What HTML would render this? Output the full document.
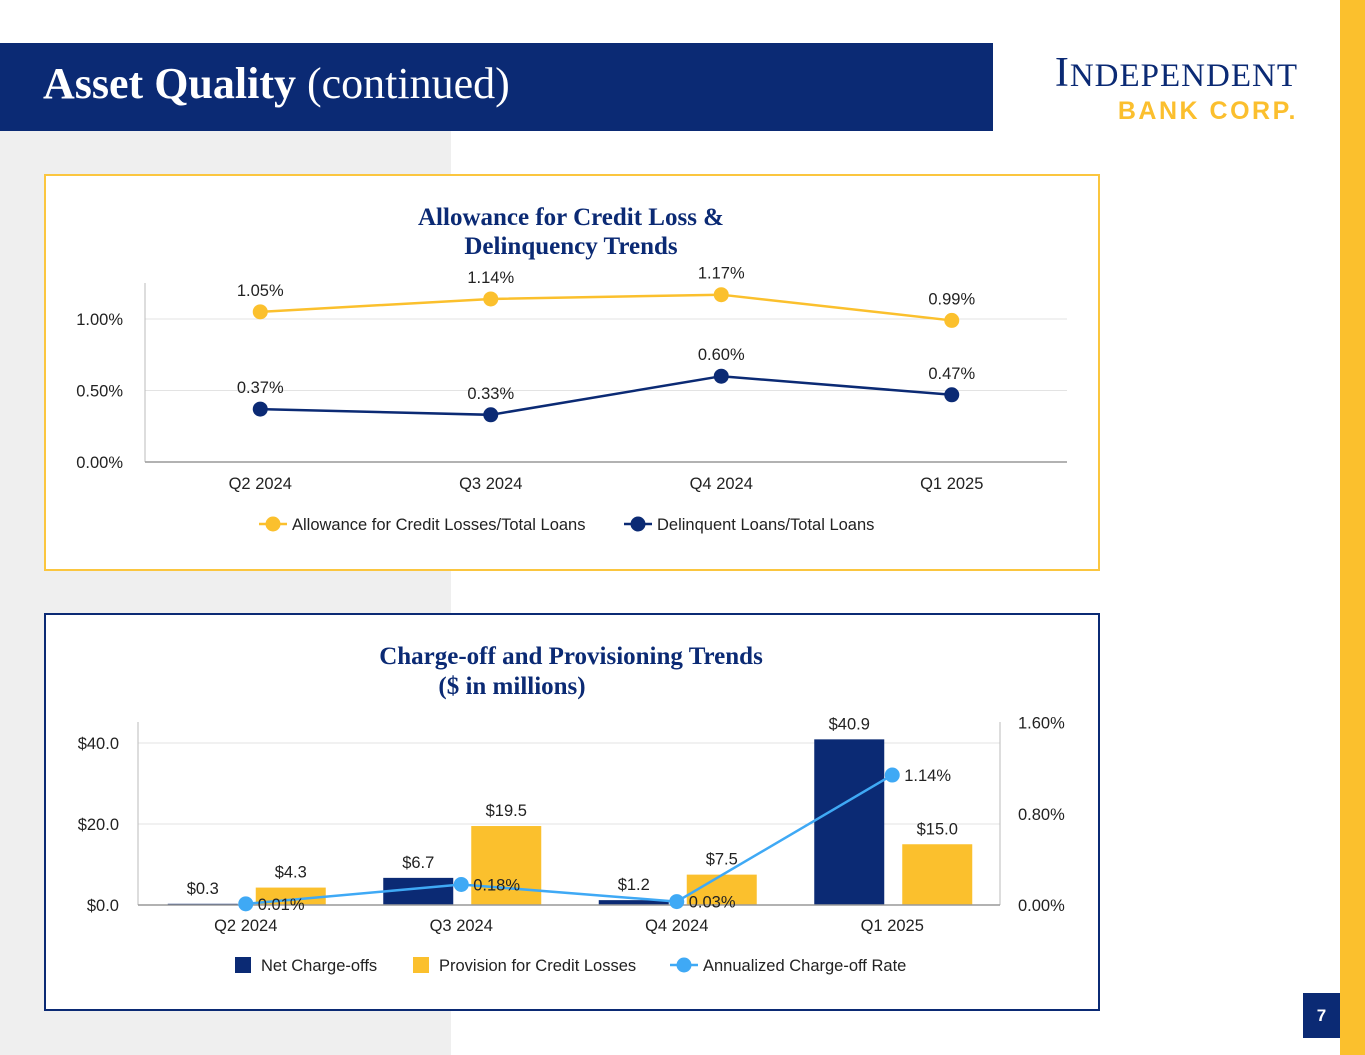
<!DOCTYPE html>
<html><head><meta charset="utf-8">
<style>
body{margin:0;width:1365px;height:1055px;position:relative;background:#fff;overflow:hidden;font-family:"Liberation Sans",Arial,sans-serif}
.abs{position:absolute}
svg text{font-family:"Liberation Sans",Arial,sans-serif}
</style></head><body>
<div class="abs" style="left:0;top:131px;width:451px;height:924px;background:#efefef"></div>
<div class="abs" style="left:0;top:43px;width:993px;height:88px;background:#0b2a74"></div>
<div class="abs" style="left:43px;top:58px;color:#fff;font-family:'Liberation Serif',serif;font-size:44px;line-height:52px;white-space:nowrap"><b>Asset Quality</b> (continued)</div>
<div class="abs" style="left:980px;top:52px;width:318px;text-align:right">
  <div style="color:#0b2a74;font-family:'Liberation Serif',serif;font-size:42px;line-height:42px;letter-spacing:1px;white-space:nowrap">I<span style="font-size:33px">NDEPENDENT</span></div>
  <div style="color:#fbbf2e;font-size:25px;font-weight:bold;line-height:28px;letter-spacing:2.5px;white-space:nowrap">BANK CORP.</div>
</div>
<div class="abs" style="left:1340px;top:0;width:25px;height:1055px;background:#fbc02d"></div>
<div class="abs" style="left:1303px;top:993px;width:37px;height:45px;background:#0b2a74;color:#fff;font-weight:bold;font-size:17px;text-align:center;line-height:45px">7</div>

<div class="abs" style="left:44px;top:174px;width:1052px;height:393px;border:2px solid #fbc63f;background:#fff"></div>
<div class="abs" style="left:44px;top:613px;width:1052px;height:394px;border:2px solid #0b2a74;background:#fff"></div>

<svg class="abs" id="chart1" style="left:0;top:0" width="1365" height="1055"></svg>

<script>
const cats1 = ["Q2 2024","Q3 2024","Q4 2024","Q1 2025"];
const allowance = [1.05,1.14,1.17,0.99];
const delinquent = [0.37,0.33,0.60,0.47];
const yTicks1 = [0,0.5,1.0];
const yTickLabels1 = ["0.00%","0.50%","1.00%"];

const cats2 = ["Q2 2024","Q3 2024","Q4 2024","Q1 2025"];
const netChargeoffs = [0.3,6.7,1.2,40.9];
const provisions = [4.3,19.5,7.5,15.0];
const chargeoffRate = [0.01,0.18,0.03,1.14];
const yTicks2 = [0,20,40];
const yTickLabels2 = ["$0.0","$20.0","$40.0"];
const yTicksR = [0,0.8,1.6];
const yTickLabelsR = ["0.00%","0.80%","1.60%"];

const NS="http://www.w3.org/2000/svg";
const svg=document.getElementById('chart1');
function mk(tag,attrs,txt){const e=document.createElementNS(NS,tag);for(const k in attrs)e.setAttribute(k,attrs[k]);if(txt!==undefined)e.textContent=txt;svg.appendChild(e);return e;}
const NAVY="#0b2a74",GOLD="#fbc02d",BLUE="#3fa9f5",TXT="#222";
const FS=16.5;

// ---- Chart 1 ----
const t1a=mk('text',{x:571,y:225,'text-anchor':'middle','font-size':25,'font-weight':'bold',fill:NAVY,style:'font-family:"Liberation Serif",serif'},'Allowance for Credit Loss &');


const t1b=mk('text',{x:571,y:254,'text-anchor':'middle','font-size':25,'font-weight':'bold',fill:NAVY,style:'font-family:"Liberation Serif",serif'},'Delinquency Trends');


const x1L=145,x1R=1067,y1_0=462,pxPerPct=143;
const x1=i=>x1L+(x1R-x1L)/cats1.length*(i+0.5);
const y1=v=>y1_0-v*pxPerPct;
yTicks1.forEach((v,i)=>{
  if(v>0){const g=mk('line',{x1:x1L,x2:x1R,y1:y1(v),y2:y1(v),stroke:'#e3e3e3'});
  
  }
  const t=mk('text',{x:123,y:y1(v)+6,'text-anchor':'end','font-size':FS,fill:TXT},yTickLabels1[i]);
  
  
});
const a1=mk('line',{x1:x1L,x2:x1L,y1:283,y2:y1_0,stroke:'#bbb'});


const b1=mk('line',{x1:x1L,x2:x1R,y1:y1_0,y2:y1_0,stroke:'#999','stroke-width':1.5});


cats1.forEach((c,i)=>{const t=mk('text',{x:x1(i),y:489,'text-anchor':'middle','font-size':FS,fill:TXT},c);
  
  });
function series1(vals,color,name){
  const p=mk('polyline',{points:vals.map((v,i)=>x1(i)+','+y1(v)).join(' '),fill:'none',stroke:color,'stroke-width':2.5});
  
  
  vals.forEach((v,i)=>{
    const c=mk('circle',{cx:x1(i),cy:y1(v),r:7.5,fill:color});
    
    
    const t=mk('text',{x:x1(i),y:y1(v)-16,'text-anchor':'middle','font-size':FS,fill:TXT},v.toFixed(2)+'%');
    
    
  });
}
series1(allowance,GOLD,'allowance');
series1(delinquent,NAVY,'delinquent');
function legendLine(x,y,color,label,name){
  const l=mk('line',{x1:x,x2:x+28,y1:y,y2:y,stroke:color,'stroke-width':2.5});
  
  
  const c=mk('circle',{cx:x+14,cy:y,r:7.5,fill:color});
  
  
  const t=mk('text',{x:x+33,y:y+6,'font-size':FS,fill:TXT},label);
  
  
}
legendLine(259,524,GOLD,'Allowance for Credit Losses/Total Loans','allowance');
legendLine(624,524,NAVY,'Delinquent Loans/Total Loans','delinquent');

// ---- Chart 2 ----
const t2a=mk('text',{x:571,y:664,'text-anchor':'middle','font-size':25,'font-weight':'bold',fill:NAVY,style:'font-family:"Liberation Serif",serif'},'Charge-off and Provisioning Trends');


const t2b=mk('text',{x:512,y:694,'text-anchor':'middle','font-size':25,'font-weight':'bold',fill:NAVY,style:'font-family:"Liberation Serif",serif'},'($ in millions)');


const x2L=138,x2R=1000,y2_0=905,pxPerM=4.05,pxPerPctR=114;
const x2=i=>x2L+(x2R-x2L)/cats2.length*(i+0.5);
const y2=v=>y2_0-v*pxPerM;
const yR=v=>y2_0-v*pxPerPctR;
yTicks2.forEach((v,i)=>{
  if(v>0){const g=mk('line',{x1:x2L,x2:x2R,y1:y2(v),y2:y2(v),stroke:'#e3e3e3'});
  
  }
  const t=mk('text',{x:119,y:y2(v)+6,'text-anchor':'end','font-size':FS,fill:TXT},yTickLabels2[i]);
  
  
});
yTicksR.forEach((v,i)=>{
  const t=mk('text',{x:1018,y:yR(v)+6,'font-size':FS,fill:TXT},yTickLabelsR[i]);
  
  
});
const a2=mk('line',{x1:x2L,x2:x2L,y1:722,y2:y2_0,stroke:'#bbb'});


const a3=mk('line',{x1:x2R,x2:x2R,y1:722,y2:y2_0,stroke:'#bbb'});


const bw=70;
cats2.forEach((c,i)=>{
  const r1=mk('rect',{x:x2(i)-43-bw/2,y:y2(netChargeoffs[i]),width:bw,height:netChargeoffs[i]*pxPerM,fill:NAVY});
  
  
  const l1=mk('text',{x:x2(i)-43,y:y2(netChargeoffs[i])-10,'text-anchor':'middle','font-size':FS,fill:TXT},'$'+netChargeoffs[i].toFixed(1));
  
  
  const r2=mk('rect',{x:x2(i)+45-bw/2,y:y2(provisions[i]),width:bw,height:provisions[i]*pxPerM,fill:GOLD});
  
  
  const l2=mk('text',{x:x2(i)+45,y:y2(provisions[i])-10,'text-anchor':'middle','font-size':FS,fill:TXT},'$'+provisions[i].toFixed(1));
  
  
  const t=mk('text',{x:x2(i),y:931,'text-anchor':'middle','font-size':FS,fill:TXT},c);
  
  
});
const b2=mk('line',{x1:x2L,x2:x2R,y1:y2_0,y2:y2_0,stroke:'#999','stroke-width':1.5});


const rl=mk('polyline',{points:chargeoffRate.map((v,i)=>x2(i)+','+yR(v)).join(' '),fill:'none',stroke:BLUE,'stroke-width':2.5});


chargeoffRate.forEach((v,i)=>{
  const c=mk('circle',{cx:x2(i),cy:yR(v),r:7.5,fill:BLUE});
  
  
  const t=mk('text',{x:x2(i)+12,y:yR(v)+6,'font-size':FS,fill:TXT},v.toFixed(2)+'%');
  
  
});
function legendBox(x,y,color,label,name){
  const r=mk('rect',{x:x,y:y-8,width:16,height:16,fill:color});
  
  
  const t=mk('text',{x:x+26,y:y+6,'font-size':FS,fill:TXT},label);
  
  
}
legendBox(235,965,NAVY,'Net Charge-offs','net-chargeoffs');
legendBox(413,965,GOLD,'Provision for Credit Losses','provision');
legendLine(670,965,BLUE,'Annualized Charge-off Rate','chargeoff-rate');
</script>
</body></html>
